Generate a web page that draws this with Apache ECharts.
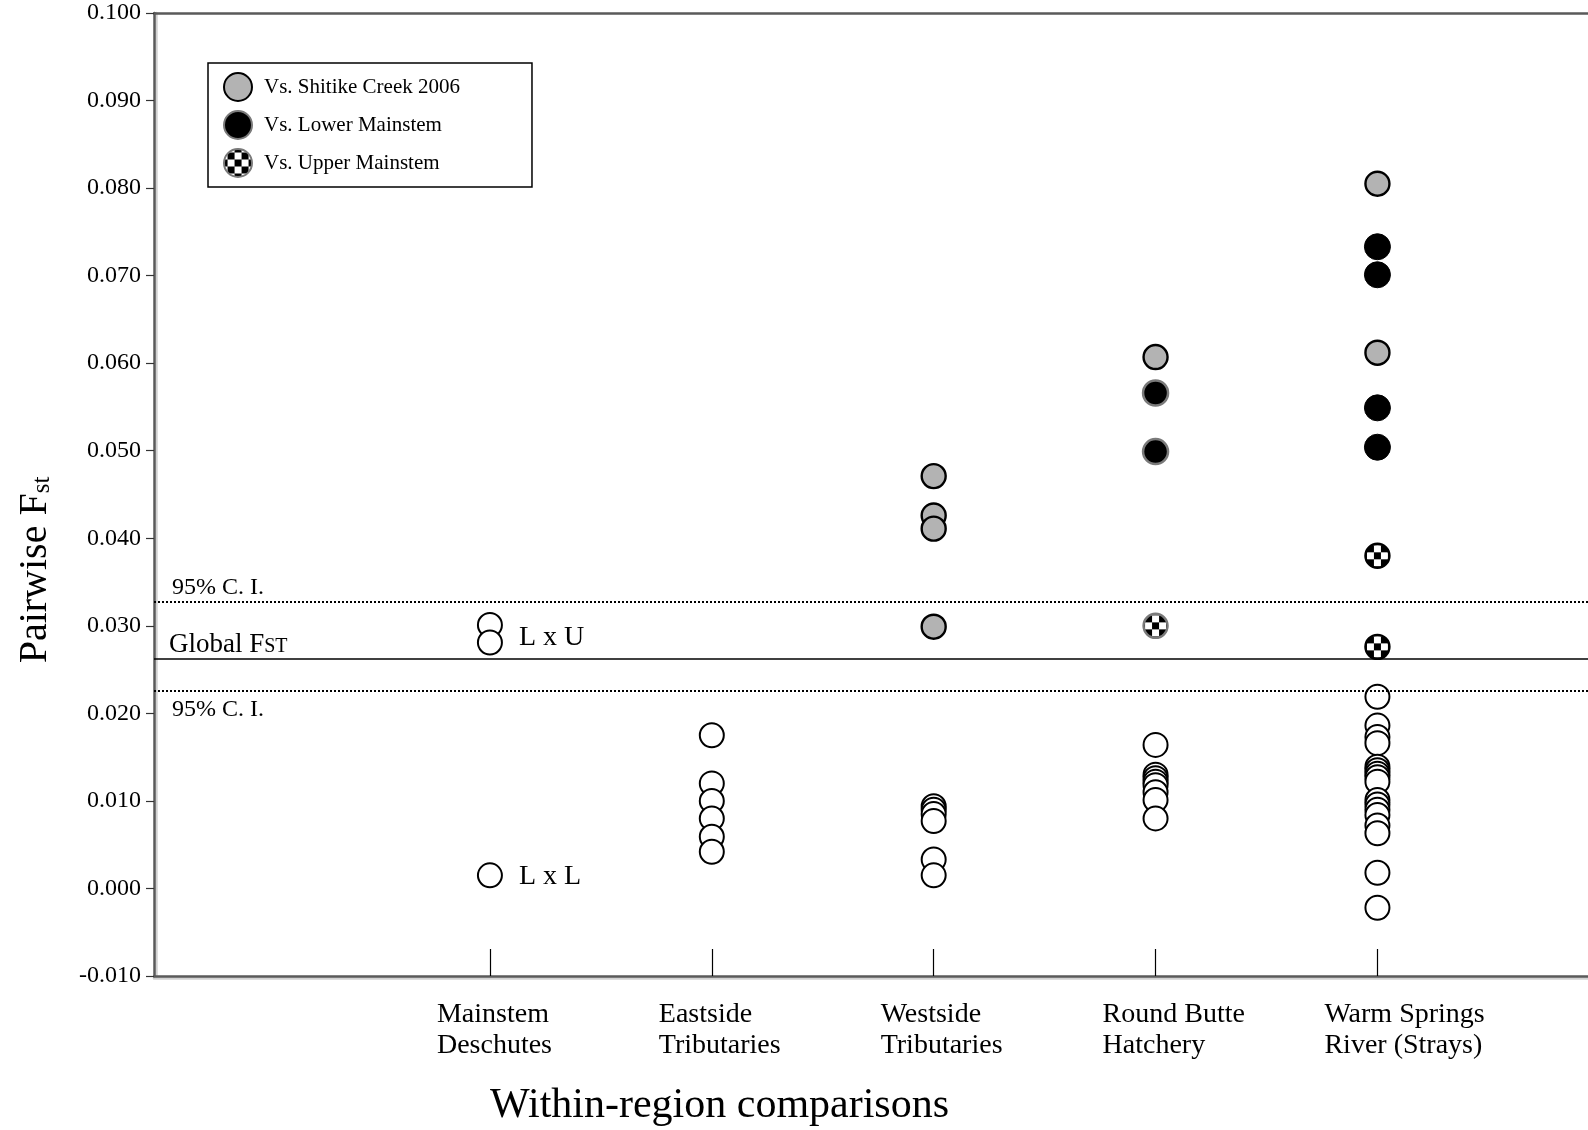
<!DOCTYPE html>
<html>
<head>
<meta charset="utf-8">
<title>Pairwise Fst within regions</title>
<script src="https://cdn.jsdelivr.net/npm/echarts@6/dist/echarts.min.js"></script>
<style>
  html, body { margin: 0; padding: 0; background: #fff; }
  #chart { width: 1588px; height: 1130px; }
</style>
</head>
<body>
<div id="chart"></div>
<script>
// Regions along the x axis (positions 1..5)
const regions = ['Mainstem\nDeschutes', 'Eastside\nTributaries', 'Westside\nTributaries', 'Round Butte\nHatchery', 'Warm Springs\nRiver (Strays)'];

// Y axis range and tick spacing
const yMin = -0.01;
const yMax = 0.1;
const yStep = 0.01;

// Within-region pairwise Fst (open circles), listed high to low
const mainstemWithin = [0.0301, 0.0281, 0.0015];
const mainstemNotes = ['', 'L x U', 'L x L'];
const eastsideWithin = [0.0175, 0.0120, 0.0100, 0.0080, 0.0059, 0.0042];
const westsideWithin = [0.0094, 0.0090, 0.0085, 0.0077, 0.0033, 0.0015];
const hatcheryWithin = [0.0164, 0.0130, 0.0126, 0.0122, 0.0118, 0.0110, 0.0101, 0.0080];
const warmSpringsWithin = [0.0219, 0.0186, 0.0173, 0.0166, 0.0139, 0.0135, 0.0131, 0.0127, 0.0122,
  0.0101, 0.0096, 0.0090, 0.0084, 0.0072, 0.0063, 0.0018, -0.0022];

// Comparisons against Shitike Creek 2006
const westsideShitike = [0.0471, 0.0426, 0.0411, 0.0299];
const hatcheryShitike = [0.0607];
const warmSpringsShitike = [0.0805, 0.0612];

// Comparisons against the lower mainstem
const hatcheryLower = [0.0566, 0.0499];
const warmSpringsLower = [0.0733, 0.0701, 0.0549, 0.0504];

// Comparisons against the upper mainstem
const hatcheryUpper = [0.0300];
const warmSpringsUpper = [0.0380, 0.0276];

// Global Fst and its 95% confidence interval
const globalFst = 0.0262;
const ciLower = 0.0226;
const ciUpper = 0.0328;

const serif = "'Liberation Serif', 'Times New Roman', Times, serif";

function points(regionIndex, values) {
  return values.map(v => [regionIndex + 1, v]);
}

// Checkerboard fill for the upper-mainstem markers.
// Scatter symbols are drawn as a unit circle scaled up by size/2,
// so the pattern is scaled down by the same factor there.
const markerSize = 24;
function checker(scale) {
  const c = document.createElement('canvas');
  const cell = 7;
  c.width = c.height = cell * 2;
  const ctx = c.getContext('2d');
  ctx.fillStyle = '#fff';
  ctx.fillRect(0, 0, c.width, c.height);
  ctx.fillStyle = '#000';
  ctx.fillRect(0, 0, cell, cell);
  ctx.fillRect(cell, cell, cell, cell);
  return { image: c, repeat: 'repeat', scaleX: scale, scaleY: scale, x: -0.5 * scale * cell, y: -0.5 * scale * cell };
}
const checkerSymbolFill = checker(2 / markerSize);
const checkerLegendFill = checker(1);

const withinLists = [mainstemWithin, eastsideWithin, westsideWithin, hatcheryWithin, warmSpringsWithin];
const withinData = [];
withinLists.forEach((arr, i) => {
  arr.forEach((v, j) => {
    const item = { value: [i + 1, v] };
    if (i === 0 && mainstemNotes[j]) {
      item.label = {
        show: true,
        formatter: mainstemNotes[j],
        position: 'right',
        distance: 16,
        offset: [0, mainstemNotes[j] === 'L x U' ? -5 : 1],
        fontFamily: serif,
        fontSize: 28,
        color: '#000'
      };
    }
    withinData.push(item);
  });
});

const labelRich = {
  l: { fontFamily: serif, fontSize: 28, lineHeight: 31, color: '#000', width: 106, align: 'left' }
};

const axisGray = '#5a5a5a';

const chart = echarts.init(document.getElementById('chart'), null, { renderer: 'canvas' });

chart.setOption({
  animation: false,
  backgroundColor: '#fff',
  title: {
    text: 'Within-region comparisons',
    left: 490,
    top: 1085,
    padding: 0,
    textStyle: { fontFamily: serif, fontSize: 42, fontWeight: 'normal', color: '#000' }
  },
  graphic: [{
    type: 'text',
    x: 33,
    y: 570,
    rotation: Math.PI / 2,
    style: {
      text: '{a|Pairwise F}{b|st}',
      align: 'center',
      verticalAlign: 'middle',
      fill: '#000',
      rich: {
        a: { fontFamily: serif, fontSize: 40, verticalAlign: 'bottom', lineHeight: 44 },
        b: { fontFamily: serif, fontSize: 25, verticalAlign: 'bottom', lineHeight: 36 }
      }
    }
  }],
  legend: {
    data: [
      { name: 'Vs. Shitike Creek 2006' },
      { name: 'Vs. Lower Mainstem' },
      { name: 'Vs. Upper Mainstem', itemStyle: { color: checkerLegendFill } }
    ],
    orient: 'vertical',
    left: 208,
    top: 63,
    padding: [9, 72, 9, 15],
    itemGap: 8,
    itemWidth: 28,
    itemHeight: 28,
    borderColor: '#000',
    borderWidth: 1.5,
    selectedMode: false,
    textStyle: { fontFamily: serif, fontSize: 21, color: '#000', padding: [0, 0, 0, 7] }
  },
  grid: { left: 154, right: 0, top: 13, bottom: 154, containLabel: false },
  xAxis: [{
    type: 'value',
    min: -0.514,
    max: 5.949,
    position: 'bottom',
    axisLine: { onZero: false, lineStyle: { color: axisGray, width: 2.5, shadowColor: 'rgba(0,0,0,0.18)', shadowOffsetY: 2 } },
    axisTick: { show: true, inside: true, length: 27, customValues: [1, 2, 3, 4, 5], lineStyle: { color: '#000', width: 1.2 } },
    axisLabel: {
      customValues: [1, 2, 3, 4, 5],
      hideOverlap: false,
      margin: 23,
      align: 'center',
      verticalAlign: 'top',
      formatter: v => regions[Math.round(v) - 1].split('\n').map(s => '{l|' + s + '}').join('\n'),
      rich: labelRich
    },
    splitLine: { show: false }
  }, {
    type: 'value',
    min: -0.514,
    max: 5.949,
    position: 'top',
    axisLine: { onZero: false, lineStyle: { color: axisGray, width: 2.5 } },
    axisTick: { show: false },
    axisLabel: { show: false },
    splitLine: { show: false }
  }],
  yAxis: {
    type: 'value',
    min: yMin,
    max: yMax,
    interval: yStep,
    axisLine: { show: true, onZero: false, lineStyle: { color: axisGray, width: 2.5, shadowColor: 'rgba(0,0,0,0.18)', shadowOffsetX: 2 } },
    axisTick: { show: true, length: 8, lineStyle: { color: '#333', width: 1.2 } },
    axisLabel: {
      margin: 13,
      fontFamily: serif,
      fontSize: 24,
      color: '#000',
      formatter: v => v.toFixed(3)
    },
    splitLine: { show: false }
  },
  series: [
    {
      // Global Fst and confidence bounds
      name: 'reference',
      type: 'scatter',
      data: [],
      z: 1,
      markLine: {
        silent: true,
        precision: 4,
        symbol: ['none', 'none'],
        animation: false,
        data: [
          {
            yAxis: ciUpper,
            lineStyle: { color: '#000', width: 2, type: [2, 2] },
            label: { show: true, position: 'insideStartTop', distance: [18, 2], formatter: '95% C. I.',
              fontFamily: serif, fontSize: 24, color: '#000' }
          },
          {
            yAxis: globalFst,
            lineStyle: { color: '#000', width: 1.6, type: 'solid' },
            label: { show: true, position: 'insideStartTop', distance: [15, 1], formatter: '{a|Global F}{b|ST}',
              rich: {
                a: { fontFamily: serif, fontSize: 27, color: '#000', verticalAlign: 'bottom' },
                b: { fontFamily: serif, fontSize: 20, color: '#000', verticalAlign: 'bottom', padding: [0, 0, 1, 0] }
              } }
          },
          {
            yAxis: ciLower,
            lineStyle: { color: '#000', width: 2, type: [2, 2] },
            label: { show: true, position: 'insideStartBottom', distance: [18, 7], formatter: '95% C. I.',
              fontFamily: serif, fontSize: 24, color: '#000' }
          }
        ]
      }
    },
    {
      name: 'Within region',
      type: 'scatter',
      z: 3,
      symbol: 'circle',
      symbolSize: 24,
      itemStyle: { color: '#fff', borderColor: '#000', borderWidth: 2, opacity: 1 },
      data: withinData
    },
    {
      name: 'Vs. Shitike Creek 2006',
      type: 'scatter',
      z: 4,
      symbol: 'circle',
      symbolSize: markerSize,
      itemStyle: { color: '#b3b3b3', borderColor: '#000', borderWidth: 2.4, opacity: 1 },
      data: [].concat(points(2, westsideShitike), points(3, hatcheryShitike), points(4, warmSpringsShitike))
    },
    {
      name: 'Vs. Lower Mainstem',
      type: 'scatter',
      z: 4,
      symbol: 'circle',
      symbolSize: 25,
      itemStyle: { color: '#000', borderColor: '#7a7a7a', borderWidth: 2.5, opacity: 1 },
      data: points(3, hatcheryLower)
    },
    {
      name: 'Vs. Lower Mainstem',
      type: 'scatter',
      z: 4,
      symbol: 'circle',
      symbolSize: 26,
      itemStyle: { color: '#000', borderColor: '#000', borderWidth: 1, opacity: 1 },
      data: points(4, warmSpringsLower)
    },
    {
      name: 'Vs. Upper Mainstem',
      type: 'scatter',
      z: 4,
      symbol: 'circle',
      symbolSize: markerSize,
      itemStyle: { color: checkerSymbolFill, borderColor: '#7a7a7a', borderWidth: 2.4, opacity: 1 },
      data: points(3, hatcheryUpper)
    },
    {
      name: 'Vs. Upper Mainstem',
      type: 'scatter',
      z: 4,
      symbol: 'circle',
      symbolSize: markerSize,
      itemStyle: { color: checkerSymbolFill, borderColor: '#000', borderWidth: 2.4, opacity: 1 },
      data: points(4, warmSpringsUpper)
    }
  ]
});
</script>
</body>
</html>
